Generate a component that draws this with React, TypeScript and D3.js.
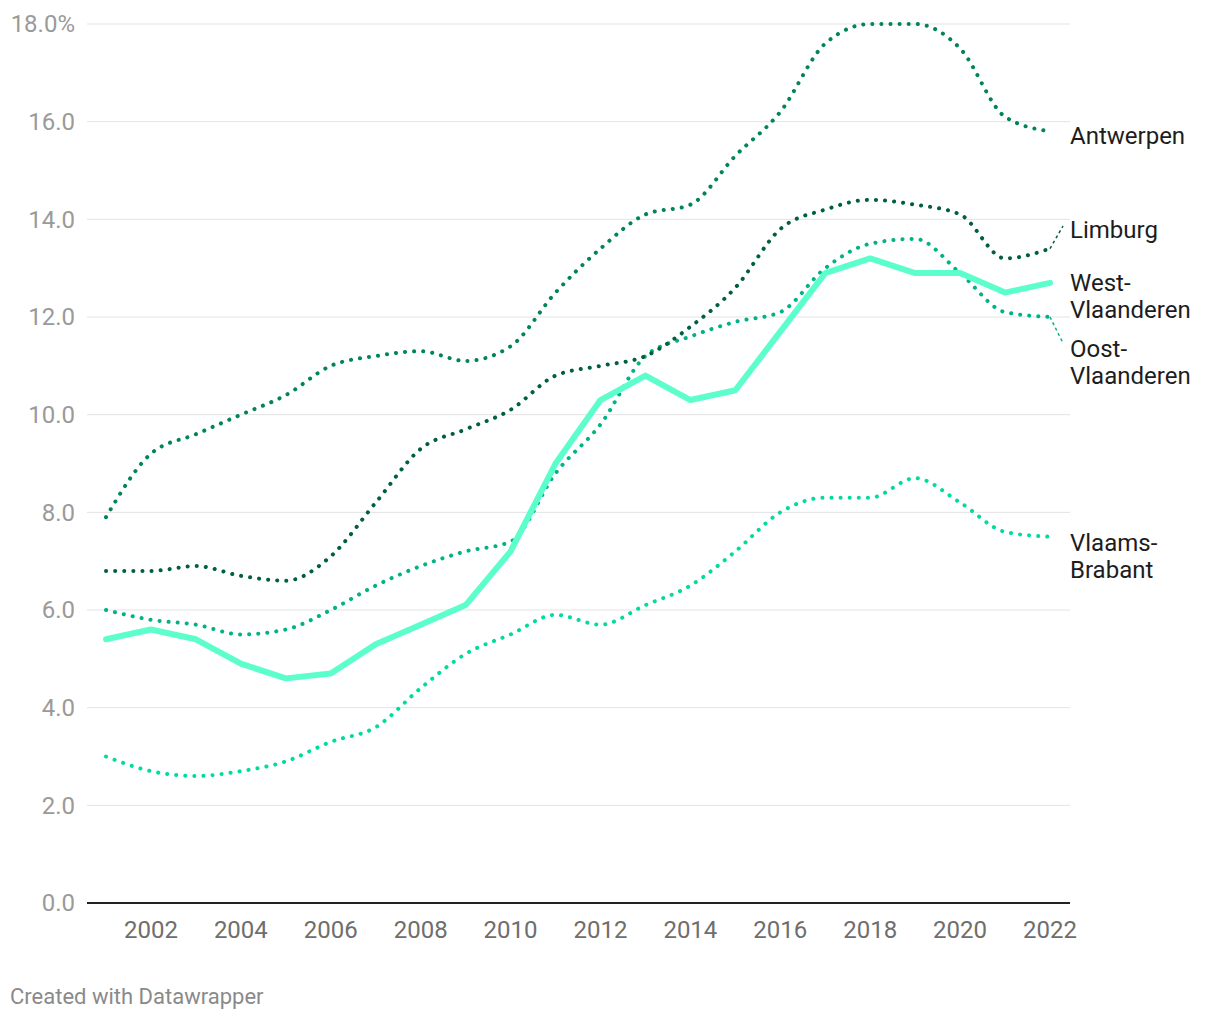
import React from "react";
import * as d3 from "d3";

const years = [2001, 2002, 2003, 2004, 2005, 2006, 2007, 2008, 2009, 2010, 2011, 2012, 2013, 2014, 2015, 2016, 2017, 2018, 2019, 2020, 2021, 2022];
const antwerpen = [7.9, 9.2, 9.6, 10.0, 10.4, 11.0, 11.2, 11.3, 11.1, 11.4, 12.5, 13.4, 14.1, 14.3, 15.3, 16.2, 17.6, 18.0, 18.0, 17.5, 16.1, 15.8];
const limburg = [6.8, 6.8, 6.9, 6.7, 6.6, 7.1, 8.2, 9.3, 9.7, 10.1, 10.8, 11.0, 11.2, 11.8, 12.6, 13.8, 14.2, 14.4, 14.3, 14.1, 13.2, 13.4];
const westVlaanderen = [5.4, 5.6, 5.4, 4.9, 4.6, 4.7, 5.3, 5.7, 6.1, 7.2, 9.0, 10.3, 10.8, 10.3, 10.5, 11.7, 12.9, 13.2, 12.9, 12.9, 12.5, 12.7];
const oostVlaanderen = [6.0, 5.8, 5.7, 5.5, 5.6, 6.0, 6.5, 6.9, 7.2, 7.4, 8.8, 9.8, 11.2, 11.6, 11.9, 12.1, 13.0, 13.5, 13.6, 12.9, 12.1, 12.0];
const vlaamsBrabant = [3.0, 2.7, 2.6, 2.7, 2.9, 3.3, 3.6, 4.4, 5.1, 5.5, 5.9, 5.7, 6.1, 6.5, 7.2, 8.0, 8.3, 8.3, 8.7, 8.2, 7.6, 7.5];

const yTicks = [0, 2, 4, 6, 8, 10, 12, 14, 16, 18];
const xTicks = [2002, 2004, 2006, 2008, 2010, 2012, 2014, 2016, 2018, 2020, 2022];

const seriesList = [
  { name: ["Vlaams-", "Brabant"], values: vlaamsBrabant, color: "#00dc9e", dotted: true, labelY: 556, connect: false },
  { name: ["Oost-", "Vlaanderen"], values: oostVlaanderen, color: "#00b386", dotted: true, labelY: 362, connect: true },
  { name: ["Limburg"], values: limburg, color: "#005f3d", dotted: true, labelY: 230, connect: true },
  { name: ["Antwerpen"], values: antwerpen, color: "#00855a", dotted: true, labelY: 136, connect: false },
  { name: ["West-", "Vlaanderen"], values: westVlaanderen, color: "#5cffcc", dotted: false, labelY: 296, connect: false },
];

export default function App() {
  const W = 1220, H = 1020;
  const x = d3.scaleLinear().domain([2001, 2022]).range([106, 1050]);
  const y = d3.scaleLinear().domain([0, 18]).range([903, 24]);
  const font = "Roboto, 'Noto Sans', sans-serif";

  const smooth = d3.line<number>().x((_, i) => x(years[i])).y((d) => y(d)).curve(d3.curveMonotoneX);
  const straight = d3.line<number>().x((_, i) => x(years[i])).y((d) => y(d));

  return (
    <svg width={W} height={H} style={{ position: "absolute", left: 0, top: 0, fontFamily: font }}>
      <rect width={W} height={H} fill="#fff" />
      {yTicks.map((t) => (
        <g key={t}>
          {t !== 0 && <line x1={87} x2={1070} y1={y(t)} y2={y(t)} stroke="#e3e3e3" strokeWidth={1} />}
          <text x={75} y={y(t)} dy="0.35em" textAnchor="end" fontSize={24} fill="#9a9a9a">
            {t.toFixed(1) + (t === 18 ? "%" : "")}
          </text>
        </g>
      ))}
      {xTicks.map((t) => (
        <text key={t} x={x(t)} y={938} textAnchor="middle" fontSize={24} fill="#6e6e6e">{t}</text>
      ))}
      {seriesList.map((s) => (
        <path
          key={s.name.join("")}
          d={(s.dotted ? smooth : straight)(s.values) || ""}
          fill="none"
          stroke={s.color}
          strokeWidth={s.dotted ? 4 : 6}
          strokeLinecap="round"
          strokeLinejoin="round"
          strokeDasharray={s.dotted ? "0.1 9" : undefined}
        />
      ))}
      {seriesList.filter((s) => s.connect).map((s) => {
        const last = s.values[s.values.length - 1];
        const ly = s.name.length > 1 ? s.labelY - 19 : s.labelY - 4;
        return (
          <line key={"c" + s.name.join("")} x1={x(2022)} y1={y(last)} x2={1063} y2={ly}
            stroke={s.color} strokeWidth={1.5} strokeDasharray="3 3" />
        );
      })}
      <line x1={87} x2={1070} y1={y(0)} y2={y(0)} stroke="#222" strokeWidth={2} />
      {seriesList.map((s) => (
        <text key={"l" + s.name.join("")} x={1070} fontSize={24} fill="#1d1d1d">
          {s.name.map((n, i) => (
            <tspan key={i} x={1070} y={s.labelY + (i - (s.name.length - 1) / 2) * 27} dy="0.35em">{n}</tspan>
          ))}
        </text>
      ))}
      <text x={10} y={1004} fontSize={22} fill="#8a8a8a">Created with Datawrapper</text>
    </svg>
  );
}
